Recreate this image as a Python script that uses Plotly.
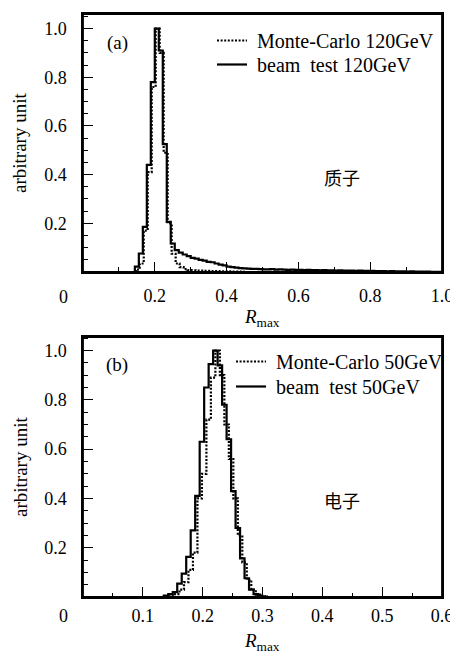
import plotly.graph_objects as go

# ---------------- data ----------------
# Panel (a): protons, 120 GeV, bin width 1/90, first bin starts at 13/90
a_bin_width = 1.0 / 90
a_beam_start = 13.0 / 90
a_beam_values = [
    0.022, 0.076, 0.185, 0.44, 0.78, 1.0, 0.91, 0.525, 0.206, 0.117,
    0.09, 0.08, 0.072, 0.065, 0.058, 0.055, 0.05, 0.047, 0.042, 0.04,
    0.035, 0.03, 0.027, 0.022, 0.02, 0.018, 0.016, 0.015, 0.014, 0.013,
    0.013, 0.012, 0.011, 0.011, 0.012, 0.010, 0.011, 0.010, 0.009, 0.010,
    0.009, 0.009, 0.008, 0.009, 0.008, 0.008, 0.007, 0.008, 0.007, 0.007,
    0.006, 0.007, 0.006, 0.006, 0.006, 0.005, 0.006, 0.005, 0.005, 0.005,
    0.004, 0.004, 0.004, 0.003, 0.004, 0.003, 0.003, 0.003, 0.002, 0.003,
    0.002, 0.002, 0.002, 0.002, 0.001, 0.001, 0.001,
]
a_mc_start = 13.0 / 90 + 0.0025
a_mc_values = [
    0.01, 0.035, 0.17, 0.41, 0.76, 1.0, 0.90, 0.49, 0.20, 0.075,
    0.035, 0.02, 0.012, 0.008, 0.007, 0.006, 0.006, 0.005, 0.005, 0.004,
    0.004, 0.003, 0.003, 0.003, 0.002, 0.002, 0.002,
]

# Panel (b): electrons, 50 GeV, bin width 0.0075
b_bin_width = 0.0075
b_beam_start = 0.135
b_beam_values = [
    0.006, 0.012, 0.02, 0.054, 0.095, 0.163, 0.27, 0.41, 0.63, 0.85,
    0.945, 1.0, 0.94, 0.78, 0.64, 0.43, 0.28, 0.157, 0.076, 0.03,
    0.012, 0.005, 0.002,
]
b_mc_start = 0.13875
b_mc_values = [
    0.003, 0.006, 0.012, 0.03, 0.06, 0.11, 0.18, 0.40, 0.50, 0.72,
    0.89, 1.0, 0.90, 0.70, 0.56, 0.40, 0.25, 0.14, 0.07, 0.03,
    0.01, 0.004,
]

a_xticks = [0.2, 0.4, 0.6, 0.8, 1.0]
a_xticktext = ["0.2", "0.4", "0.6", "0.8", "1.0"]
b_xticks = [0.1, 0.2, 0.3, 0.4, 0.5, 0.6]
b_xticktext = ["0.1", "0.2", "0.3", "0.4", "0.5", "0.6"]
yticks = [0.2, 0.4, 0.6, 0.8, 1.0]
yticktext = ["0.2", "0.4", "0.6", "0.8", "1.0"]

a_labels = ["&nbsp;Monte-Carlo 120GeV", "&nbsp;beam&nbsp;&nbsp;test 120GeV"]
b_labels = ["&nbsp;Monte-Carlo 50GeV", "&nbsp;beam&nbsp;&nbsp;test 50GeV"]


def step_xy(start, width, values):
    n = len(values)
    edges = [start + i * width for i in range(n + 1)]
    x = [edges[0]] + edges
    y = [0.0] + list(values) + [0.0]
    return x, y


SERIF = "Liberation Serif"
fig = go.Figure()

for (start, vals, name, dash, xa, ya, lg) in [
    (a_mc_start, a_mc_values, a_labels[0], "2px,1.6px", "x", "y", "legend"),
    (a_beam_start, a_beam_values, a_labels[1], "solid", "x", "y", "legend2"),
    (b_mc_start, b_mc_values, b_labels[0], "2px,1.6px", "x2", "y2", "legend3"),
    (b_beam_start, b_beam_values, b_labels[1], "solid", "x2", "y2", "legend4"),
]:
    w = a_bin_width if xa == "x" else b_bin_width
    x, y = step_xy(start, w, vals)
    fig.add_trace(go.Scatter(
        x=x, y=y, mode="lines", name=name,
        line=dict(color="black", width=2.2, dash=dash, shape="hv"),
        xaxis=xa, yaxis=ya, legend=lg,
    ))

# geometry: page pixels; the page body adds an 8 px offset to the figure
OFF = 8
W, H = 458 - OFF, 655 - OFF
L, R, T, B = 83 - OFF, 458 - 442, 14 - OFF, 655 - 597
PH = H - T - B
def py(pix):
    return (597 - pix) / PH
def px(pix):
    return (pix - 83) / (442 - 83)

axis_common = dict(
    showline=True, linecolor="black", linewidth=1.5, mirror=True,
    ticks="inside", ticklen=10, tickwidth=1.3, tickcolor="black",
    showgrid=False, zeroline=False, automargin=False,
    tickfont=dict(family=SERIF, size=18, color="black"),
    tickmode="array",
)
minor_common = dict(ticks="inside", ticklen=5, tickwidth=1.2,
                    tickcolor="black", showgrid=False, tick0=0)

def leg(xp, yp):
    return dict(x=px(xp), y=py(yp), xanchor="left", yanchor="top",
                bgcolor="rgba(0,0,0,0)", borderwidth=0,
                font=dict(family=SERIF, size=20, color="black"), itemwidth=30)

fig.update_layout(
    template="none",
    width=W, height=H,
    margin=dict(l=L, r=R, t=T, b=B, autoexpand=False),
    paper_bgcolor="white", plot_bgcolor="white",
    showlegend=True,
    xaxis=dict(axis_common, domain=[0, 1], range=[0, 1.0], anchor="y",
               tickvals=a_xticks, ticktext=a_xticktext, ticklabelstandoff=7,
               minor=dict(minor_common, dtick=0.1)),
    yaxis=dict(axis_common, domain=[py(272), 1], range=[0, 1.06], anchor="x",
               tickvals=yticks, ticktext=yticktext, ticklabelstandoff=11,
               minor=dict(minor_common, dtick=0.05)),
    xaxis2=dict(axis_common, domain=[0, 1], range=[0, 0.6], anchor="y2",
                tickvals=b_xticks, ticktext=b_xticktext, ticklabelstandoff=2,
                minor=dict(minor_common, ticklen=4, dtick=0.05)),
    yaxis2=dict(axis_common, domain=[0, py(337)], range=[0, 1.055], anchor="x2",
                tickvals=yticks, ticktext=yticktext, ticklabelstandoff=11,
                minor=dict(minor_common, dtick=0.05)),
    legend=leg(212, 21),
    legend2=leg(212, 45),
    legend3=leg(231, 342),
    legend4=leg(231, 367),
)

# plot frames
for xr, yr in [("x domain", "y domain"), ("x2 domain", "y2 domain")]:
    fig.add_shape(type="rect", xref=xr, yref=yr, x0=0, x1=1, y0=0, y1=1,
                  line=dict(color="black", width=1.8), fillcolor="rgba(0,0,0,0)", layer="above")

ann_font = dict(family=SERIF, size=19, color="black")
annotations = [
    dict(text="(a)", x=px(117), y=py(43)),
    dict(text="(b)", x=px(117), y=py(365)),
    dict(text="质子", x=px(342), y=py(177), font=dict(family="Noto Sans CJK SC", size=18, color="black")),
    dict(text="电子", x=px(342), y=py(500), font=dict(family="Noto Sans CJK SC", size=18, color="black")),
    dict(text="0", x=px(63), y=py(297), font=dict(family=SERIF, size=18, color="black")),
    dict(text="0", x=px(63), y=py(616), font=dict(family=SERIF, size=18, color="black")),
    dict(text="<i>R</i><sub>max</sub>", x=px(262), y=py(318)),
    dict(text="<i>R</i><sub>max</sub>", x=px(262), y=py(642)),
    dict(text="arbitrary unit", x=px(20), y=py(143), textangle=-90),
    dict(text="arbitrary unit", x=px(20), y=py(467), textangle=-90),
]
for a in annotations:
    a.setdefault("font", ann_font)
    fig.add_annotation(xref="paper", yref="paper", showarrow=False,
                       xanchor="center", yanchor="middle", **a)

fig.write_html("out.html")
